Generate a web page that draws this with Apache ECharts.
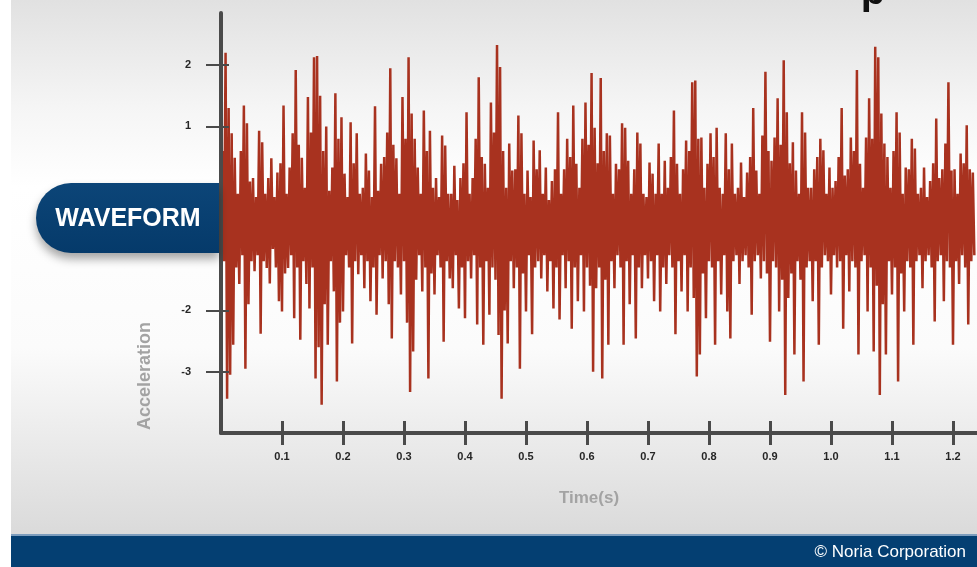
<!DOCTYPE html>
<html>
<head>
<meta charset="utf-8">
<title>Waveform</title>
<script src="https://cdn.jsdelivr.net/npm/echarts@6/dist/echarts.min.js"></script>
<style>
  html, body { margin: 0; padding: 0; background: #ffffff; }
  #chart { width: 977px; height: 567px; }
</style>
</head>
<body>
<div id="chart"></div>
<script>
// sample spacing of the waveform (s) and time of the first sample
const sampleStep = 0.005;
const firstTime = 0.0025;

// upper peak of each sample (acceleration)
const upper = [
  0.6, 2.2, 1.3, 0.89, 0.49, -0.1, 0.6, 1.34, 1.05, 0.1,
  0.16, -0.15, 0.93, 0.74, -0.1, 0.16, 0.48, -0.15, 0.25, 0.4,
  1.34, -0.1, 0.33, 0.89, 1.92, 0.7, 0.49, 0.0, 1.48, 0.9,
  2.13, 2.15, 1.5, 0.6, 1.0, -0.05, 0.33, 1.54, 0.8, 1.15,
  0.23, -0.15, 1.07, 0.4, 0.89, -0.1, 0.0, 0.56, 0.28, -0.15,
  1.33, -0.05, 0.39, 0.5, 0.9, 1.95, 0.7, 0.48, -0.1, 1.48,
  0.8, 2.13, 1.21, 0.8, 0.33, -0.1, 1.26, 0.6, 0.93, 0.0,
  0.16, -0.15, 0.85, 0.69, -0.1, -0.1, 0.36, -0.2, 0.16, 0.4,
  1.23, -0.1, 0.16, 0.8, 1.8, 0.5, 0.39, 0.0, 1.39, 0.9,
  2.33, 1.97, 0.6, 0.0, 0.72, 0.28, 0.3, 1.18, 0.89, -0.1,
  0.28, -0.15, 0.77, 0.3, 0.61, -0.1, 0.33, -0.2, 0.11, 0.3,
  1.23, -0.1, 0.3, 0.8, 0.5, 1.34, 0.39, 0.0, 0.8, 1.39,
  0.7, 1.87, 0.98, 0.4, 1.79, 0.6, 0.89, 0.85, -0.1, 0.39,
  0.3, 1.05, 0.98, 0.44, -0.1, 0.3, 0.9, 0.72, -0.1, -0.15,
  0.41, 0.23, -0.1, 0.72, -0.1, 0.44, 0.0, 0.5, 1.26, 0.39,
  -0.1, 0.3, 0.77, 0.6, 1.72, 1.75, 0.8, 0.82, 0.0, 0.39,
  0.89, 0.5, 0.98, 0.0, -0.1, 0.89, 0.3, 0.72, -0.1, 0.0,
  0.41, -0.15, 0.25, 0.5, 1.3, 0.28, -0.1, 0.85, 1.89, 0.6,
  0.44, 0.82, 1.46, 0.7, 2.08, 1.23, 0.4, 0.74, 0.28, -0.1,
  1.23, 0.9, 0.0, 0.0, 0.3, 0.5, 0.8, 0.61, -0.1, 0.33,
  0.0, 0.11, 0.5, 1.3, 0.2, 0.3, 0.82, 0.6, 1.92, 0.39,
  0.0, 0.82, 1.46, 0.8, 2.3, 2.13, 1.21, 0.72, 0.5, 0.0,
  0.6, 1.23, 0.9, -0.1, 0.33, 0.3, 0.8, 0.64, -0.1, 0.0,
  0.33, -0.15, 0.11, 0.4, 1.13, 0.16, 0.3, 0.72, 1.72, 0.28,
  0.3, -0.1, 0.56, 0.4, 1.02, 0.3, 0.25
];

// lower trough of each sample
const lower = [
  -1.2, -3.44, -3.05, -2.56, -1.3, -1.57, -1.1, -2.95, -1.9, -1.2,
  -1.36, -1.1, -2.38, -1.2, -1.31, -1.56, -1.0, -1.3, -1.85, -2.02,
  -1.4, -1.31, -1.1, -2.13, -1.3, -2.48, -1.2, -1.57, -1.97, -1.3,
  -3.11, -2.6, -3.54, -1.9, -2.56, -1.2, -1.69, -3.16, -2.2, -2.02,
  -1.1, -1.3, -2.54, -1.2, -1.41, -1.1, -1.64, -1.2, -1.85, -1.3,
  -2.07, -1.1, -1.48, -1.2, -1.9, -2.46, -1.2, -1.3, -1.74, -1.2,
  -2.2, -3.33, -2.67, -1.5, -1.1, -1.69, -1.3, -3.11, -1.4, -1.74,
  -1.1, -1.3, -2.51, -1.2, -1.48, -1.64, -1.1, -1.97, -1.3, -2.13,
  -1.2, -1.48, -1.1, -2.23, -1.3, -2.56, -1.2, -2.07, -1.3, -1.5,
  -2.4, -3.44, -2.0, -2.54, -1.2, -1.64, -1.3, -2.95, -1.4, -2.02,
  -1.1, -2.39, -1.3, -1.2, -1.48, -1.1, -1.69, -1.2, -1.97, -1.3,
  -2.15, -1.1, -1.64, -1.2, -2.3, -1.3, -1.85, -1.1, -2.02, -1.3,
  -1.6, -3.0, -1.64, -1.3, -3.11, -1.5, -2.56, -1.2, -1.64, -1.1,
  -1.3, -2.56, -1.2, -1.9, -1.1, -2.46, -1.3, -1.64, -1.1, -1.48,
  -1.2, -1.85, -1.1, -2.02, -1.3, -1.57, -1.1, -1.3, -2.39, -1.2,
  -1.69, -1.1, -2.02, -1.3, -1.8, -3.08, -2.72, -1.4, -2.13, -1.2,
  -1.3, -2.56, -1.2, -1.74, -1.1, -2.02, -2.46, -1.2, -1.1, -1.57,
  -1.2, -1.1, -1.3, -2.07, -1.2, -1.1, -1.48, -1.2, -1.4, -2.51,
  -1.2, -1.3, -2.02, -1.5, -3.38, -1.8, -1.4, -2.72, -1.2, -1.5,
  -3.16, -1.3, -1.2, -1.85, -1.2, -2.56, -1.3, -1.1, -1.2, -1.74,
  -1.1, -1.3, -1.2, -2.3, -1.1, -1.69, -1.2, -1.3, -2.72, -1.2,
  -1.1, -2.02, -1.3, -2.67, -1.6, -3.38, -1.9, -2.72, -1.2, -1.74,
  -1.3, -3.16, -1.4, -2.02, -1.2, -1.3, -2.56, -1.2, -1.1, -1.64,
  -1.2, -1.1, -1.3, -2.18, -1.2, -1.1, -1.85, -1.2, -1.3, -2.56,
  -1.2, -1.57, -1.1, -1.3, -2.23, -1.2, -1.1
];

// tick labels
const timeTicks = [0.1, 0.2, 0.3, 0.4, 0.5, 0.6, 0.7, 0.8, 0.9, 1.0, 1.1, 1.2];
const accelTicks = [2, 1, 0, -1, -2, -3];
const accelInnerTicks = [2, 1, -2, -3];

// zigzag: peak then trough for every sample
let wave = []
upper.forEach((u, i) => {
  const t = firstTime + i * sampleStep
  wave.push([t, u])
  wave.push([t + sampleStep / 2, lower[i]])
})

const axisColor = '#4a4a4a'
const labelFont = '"Liberation Sans", sans-serif'

function xAxisCfg(inside, showLine) {
  return {
    type: 'value', min: 0, max: 756 / 610, position: 'bottom', z: 3,
    axisLine: { show: showLine, onZero: false, lineStyle: { color: axisColor, width: 4 } },
    axisTick: { show: true, inside: inside, length: 12, customValues: timeTicks,
      lineStyle: { color: axisColor, width: 3 } },
    axisLabel: { show: showLine, customValues: timeTicks, margin: 18,
      color: '#262626', fontWeight: 'bold', fontSize: 11, fontFamily: labelFont,
      formatter: v => v.toFixed(1) },
    splitLine: { show: false }
  }
}

function yAxisCfg(inside, showLine) {
  return {
    type: 'value', min: -4, max: 2.85, position: 'left', z: 3,
    axisLine: { show: showLine, onZero: false, lineStyle: { color: axisColor, width: 4 } },
    axisTick: { show: true, inside: inside, length: inside ? 8 : 15,
      customValues: inside ? accelInnerTicks : accelTicks,
      lineStyle: { color: axisColor, width: 2 } },
    axisLabel: { show: showLine, customValues: accelTicks, margin: 30,
      color: '#262626', fontWeight: 'bold', fontSize: 11, fontFamily: labelFont },
    splitLine: { show: false }
  }
}

const option = {
  animation: false,
  grid: { left: 221, right: 0, top: 13, bottom: 134 },
  xAxis: [xAxisCfg(false, true), xAxisCfg(true, false)],
  yAxis: [yAxisCfg(false, true), yAxisCfg(true, false)],
  graphic: [
    {
      type: 'rect', z: -10, silent: true,
      shape: { x: 11, y: 0, width: 966, height: 535 },
      style: { fill: new echarts.graphic.LinearGradient(0, 0, 0, 1, [
        { offset: 0, color: '#e1e1e1' },
        { offset: 0.2, color: '#f5f5f5' },
        { offset: 0.35, color: '#ffffff' },
        { offset: 0.65, color: '#fbfbfb' },
        { offset: 1, color: '#dadada' }
      ]) }
    },
    {
      type: 'rect', z: -9, silent: true,
      shape: { x: 11, y: 535, width: 966, height: 32 },
      style: { fill: '#043f72' }
    },
    {
      type: 'rect', z: -8, silent: true,
      shape: { x: 11, y: 534, width: 966, height: 2 },
      style: { fill: '#7d9dbd' }
    },
    {
      // bottom of a cut-off heading letter at the top edge
      type: 'text', z: 10, silent: true,
      style: { text: 'p', x: 873, y: 13, align: 'center', verticalAlign: 'bottom',
        fill: '#111111', fontSize: 40, fontWeight: 'bold', fontFamily: labelFont }
    },
    {
      type: 'text', z: 10, silent: true,
      style: { text: '© Noria Corporation', x: 966, y: 552, align: 'right', verticalAlign: 'middle',
        fill: '#ffffff', fontSize: 17, fontFamily: labelFont }
    },
    {
      type: 'rect', z: 10, silent: true,
      shape: { x: 36, y: 183, width: 183, height: 70, r: [35, 0, 0, 35] },
      style: {
        fill: new echarts.graphic.LinearGradient(0, 0, 0, 1, [
          { offset: 0, color: '#0c4578' },
          { offset: 1, color: '#053a6a' }
        ]),
        shadowBlur: 10, shadowOffsetY: 6, shadowColor: 'rgba(0,0,0,0.35)'
      }
    },
    {
      type: 'text', z: 11, silent: true,
      style: { text: 'WAVEFORM', x: 128, y: 219, align: 'center', verticalAlign: 'middle',
        fill: '#ffffff', fontSize: 25, fontWeight: 'bold', fontFamily: labelFont }
    },
    {
      type: 'text', z: 10, silent: true, x: 145, y: 376, rotation: Math.PI / 2,
      style: { text: 'Acceleration', x: 0, y: 0, align: 'center', verticalAlign: 'middle',
        fill: '#a3a3a3', fontSize: 18, fontWeight: 'bold', fontFamily: labelFont }
    },
    {
      type: 'text', z: 10, silent: true,
      style: { text: 'Time(s)', x: 589, y: 498, align: 'center', verticalAlign: 'middle',
        fill: '#a3a3a3', fontSize: 17, fontWeight: 'bold', fontFamily: labelFont }
    }
  ],
  series: [
    {
      type: 'line',
      data: wave,
      xAxisIndex: 0,
      yAxisIndex: 0,
      showSymbol: false,
      sampling: null,
      lineStyle: { color: '#a8321f', width: 2.5 },
      z: 2
    }
  ]
}

var chartDom = document.getElementById('chart');
var myChart = echarts.init(chartDom);
myChart.setOption(option);
</script>
</body>
</html>
